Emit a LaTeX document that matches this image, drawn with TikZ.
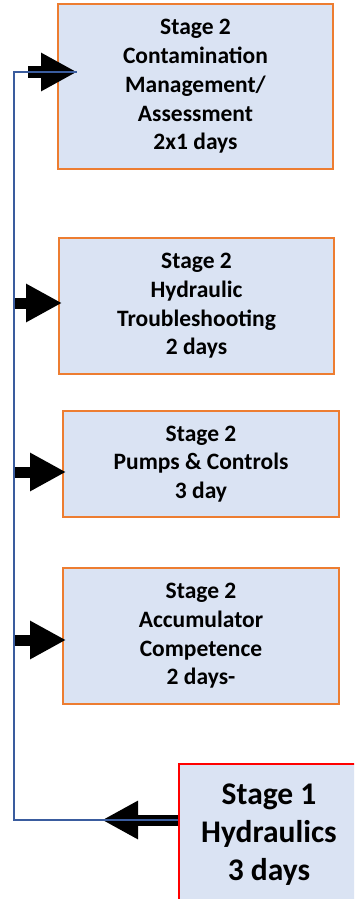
\documentclass[tikz,border=0pt]{standalone}
\usepackage{fontspec}
\setmainfont{Carlito}
\usetikzlibrary{arrows.meta}
\definecolor{boxfill}{HTML}{DAE3F3}
\definecolor{boxline}{HTML}{ED7D31}
\definecolor{trunk}{HTML}{3A5C9E}
\begin{document}
\begin{tikzpicture}[line join=miter,x=1pt,y=-1pt,
stagebox/.style={draw=boxline,fill=boxfill,line width=2pt,align=center,inner sep=0pt,font=\bfseries\fontsize{23.5}{28.7}\selectfont},
feed/.style={line width=11pt,-{Triangle[length=36pt,width=36pt]}},
trunkline/.style={draw=trunk,line width=2pt}]
\clip (0,0) rectangle (354,899);
\node[stagebox,minimum width=275pt,minimum height=165pt] (c1) at (195.5,86.5) {Stage 2\\Contamination\\Management/\\Assessment\\2x1 days};
\node[stagebox,minimum width=275pt,minimum height=136pt] (c2) at (196.5,306) {Stage 2\\Hydraulic\\Troubleshooting\\2 days};
\node[stagebox,minimum width=276pt,minimum height=106pt] (c3) at (201,464) {Stage 2\\Pumps \& Controls\\3 day};
\node[stagebox,minimum width=276pt,minimum height=136pt] (c4) at (201,636) {Stage 2\\Accumulator\\Competence\\2 days-};
\node[stagebox,draw=red,minimum width=180pt,minimum height=142pt,font=\bfseries\fontsize{31.5}{38}\selectfont] (s1) at (269,835) {Stage 1\\Hydraulics\\3 days};
\coordinate (top) at (14,72);
\coordinate (bot) at (14,820);
\coordinate (tip) at (102,820);
\draw[feed,shorten >=-20pt] ([xshift=14pt]top) -- (c1.west|-top);
\foreach \n/\y in {c2/303,c3/472,c4/640}
{
\coordinate (f\n) at (14,\y);
\draw[feed,shorten >=-4pt] (f\n) -- (\n.west|-f\n);
}
\draw[feed] (s1.west|-tip) -- (tip);
\draw[trunkline,shorten >=-20pt] (s1.west|-bot) -- (bot) -- (top) -- (c1.west|-top);
\end{tikzpicture}
\end{document}
